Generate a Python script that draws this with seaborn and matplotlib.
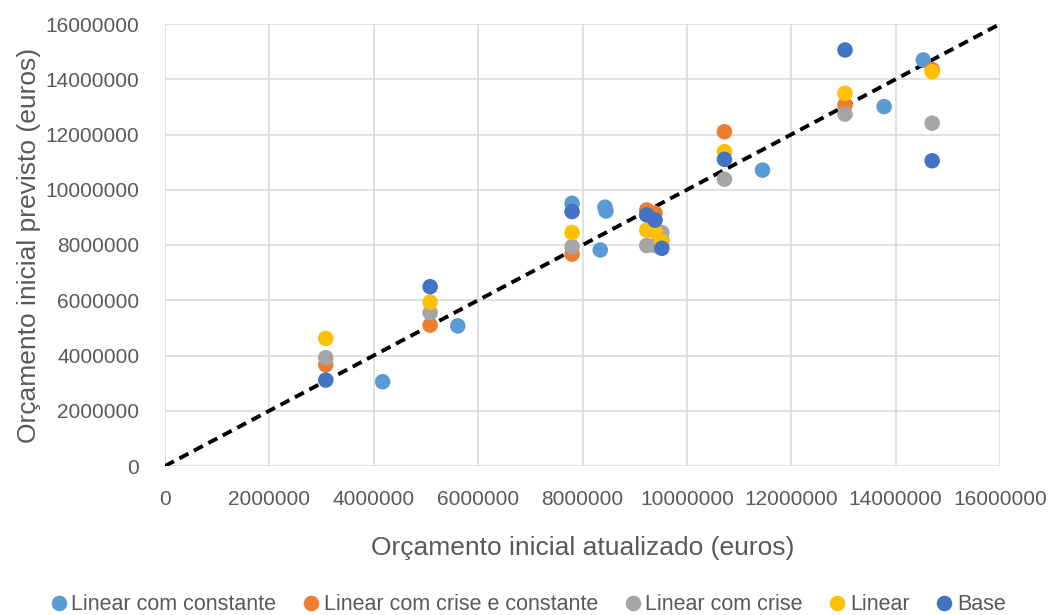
import numpy as np
import pandas as pd
import matplotlib
matplotlib.use("Agg")
import matplotlib.pyplot as plt
import seaborn as sns

# Series names, in drawing order
series = ["Linear com constante", "Linear com crise e constante",
          "Linear com crise", "Linear", "Base"]
colors = ["#5B9BD5", "#ED7D31", "#A5A5A5", "#FFC000", "#4472C4"]

# Updated initial budget (x) per project
x_common = [3.08e6, 5.08e6, 7.80e6, 9.23e6, 9.39e6, 9.52e6, 10.72e6, 13.03e6, 14.70e6]
x_lin_const = [4.17e6, 5.61e6, 7.80e6, 8.34e6, 8.43e6, 8.45e6, 11.45e6, 13.78e6, 14.53e6]

# Predicted initial budget (y) per model
y_lin_const = [3.05e6, 5.07e6, 9.51e6, 7.82e6, 9.37e6, 9.23e6, 10.71e6, 13.01e6, 14.70e6]
y_lin_crise_const = [3.66e6, 5.10e6, 7.67e6, 9.27e6, 9.15e6, 8.18e6, 12.10e6, 13.07e6, 14.35e6]
y_lin_crise = [3.92e6, 5.55e6, 7.94e6, 7.98e6, 7.98e6, 8.45e6, 10.38e6, 12.74e6, 12.41e6]
y_linear = [4.62e6, 5.93e6, 8.45e6, 8.54e6, 8.48e6, 8.12e6, 11.38e6, 13.49e6, 14.27e6]
y_base = [3.11e6, 6.49e6, 9.21e6, 9.09e6, 8.90e6, 7.88e6, 11.10e6, 15.06e6, 11.05e6]

ticks = [0, 2000000, 4000000, 6000000, 8000000, 10000000, 12000000, 14000000, 16000000]

xs = [x_lin_const, x_common, x_common, x_common, x_common]
ys = [y_lin_const, y_lin_crise_const, y_lin_crise, y_linear, y_base]
df = pd.concat(
    [pd.DataFrame({"atualizado": x, "previsto": y, "modelo": name})
     for name, x, y in zip(series, xs, ys)],
    ignore_index=True,
)

sns.set_theme(style="white")
plt.rcParams["font.family"] = ["Liberation Sans", "DejaVu Sans"]

W, H = 1051, 615
fig = plt.figure(figsize=(W / 100, H / 100), dpi=100)
ax = fig.add_axes([165 / W, 1 - 466 / H, 835 / W, 442 / H])

# Identity reference line
ax.plot([0, 16e6], [0, 16e6], color="black", lw=2.8,
        linestyle=(0, (2.6, 1.6)), zorder=2)

sns.scatterplot(data=df, x="atualizado", y="previsto", hue="modelo",
                hue_order=series, palette=colors, s=125, linewidth=0,
                alpha=1, ax=ax, zorder=3)

ax.set_xlim(0, 16e6)
ax.set_ylim(0, 16e6)
ax.set_xticks(ticks)
ax.set_yticks(ticks)
ax.set_xticklabels([str(t) for t in ticks])
ax.set_yticklabels([str(t) for t in ticks])
ax.grid(True, color="#D9D9D9", lw=1.1)
ax.set_axisbelow(True)
for sp in ax.spines.values():
    sp.set_visible(False)

text_col = "#595959"
ax.tick_params(axis="both", length=0, labelsize=15, labelcolor=text_col)
ax.tick_params(axis="y", pad=18.5)
ax.tick_params(axis="x", pad=17)

ax.set_xlabel("Orçamento inicial atualizado (euros)", fontsize=19, color=text_col)
ax.set_ylabel("Orçamento inicial previsto (euros)", fontsize=19, color=text_col)
ax.xaxis.set_label_coords(0.5, (466 - 548) / 442)
ax.xaxis.label.set_va("center")
ax.yaxis.set_label_coords((29 - 165) / 835, 0.5)
ax.yaxis.label.set_va("center")

sns.move_legend(ax, "center", bbox_to_anchor=((528 - 165) / 835, (466 - 605) / 442),
                ncol=5, frameon=False, title=None, fontsize=15.5,
                handlelength=0.8, handletextpad=0.2, columnspacing=1.2,
                borderpad=0, borderaxespad=0)
for t in ax.get_legend().get_texts():
    t.set_color(text_col)

fig.savefig("out.png", dpi=100)
